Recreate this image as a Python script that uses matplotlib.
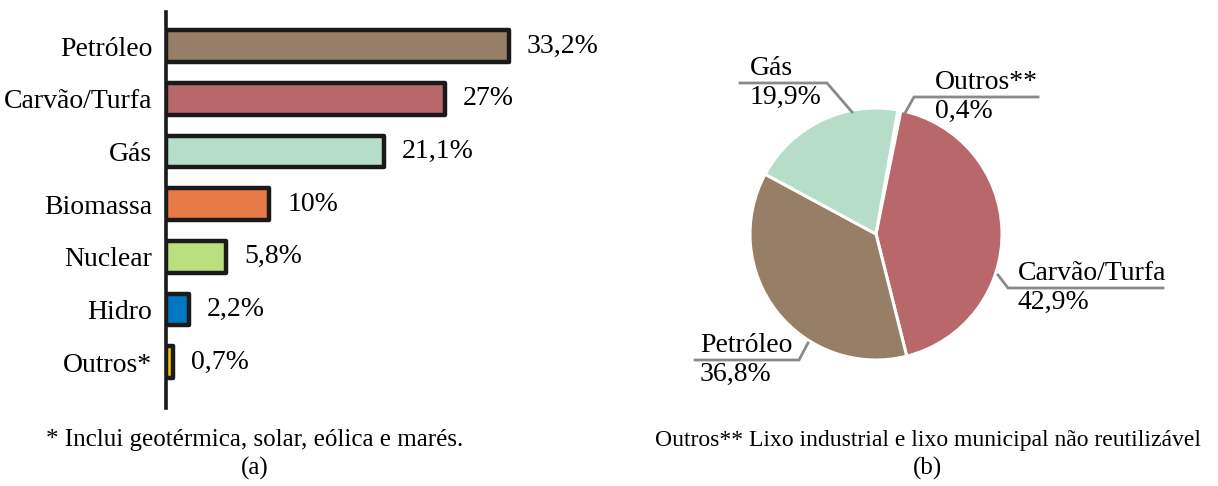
import matplotlib
matplotlib.use("Agg")
import matplotlib.pyplot as plt

plt.rcParams['font.family'] = ['Liberation Serif', 'DejaVu Serif']

# ---- data ----
bar_categories = ["Petróleo", "Carvão/Turfa", "Gás", "Biomassa", "Nuclear", "Hidro", "Outros*"]
bar_values = [33.2, 27.0, 21.1, 10.0, 5.8, 2.2, 0.7]
bar_labels = ["33,2%", "27%", "21,1%", "10%", "5,8%", "2,2%", "0,7%"]
bar_colors = ["#967F66", "#B8676A", "#B5DDC8", "#E87A48", "#BBDE7E", "#0477C2", "#F7C200"]

pie_categories = ["Outros**", "Carvão/Turfa", "Petróleo", "Gás"]
pie_values = [0.4, 42.9, 36.8, 19.9]
pie_labels = ["0,4%", "42,9%", "36,8%", "19,9%"]
pie_colors = ["#E0201B", "#B8676A", "#967F66", "#B5DDC8"]

note_a = "* Inclui geotérmica, solar, eólica e marés."
note_b = "Outros** Lixo industrial e lixo municipal não reutilizável"

W, H = 1218, 486
fig = plt.figure(figsize=(W / 100, H / 100), dpi=100)

# ---- bar chart (a) ----
ax = fig.add_axes([166 / W, 1 - 408 / H, 408 / W, 396 / H])
ypos = list(range(len(bar_categories)))
bars = ax.barh(ypos, bar_values, height=0.6, color=bar_colors,
               edgecolor="#1a1a1a", linewidth=3.2, zorder=2)
for b in bars:
    b.set_joinstyle("round")
ax.set_ylim(6.87, -0.65)
ax.set_xlim(0, 39.5)
ax.set_yticks(ypos)
ax.set_yticklabels(bar_categories, fontsize=20)
ax.tick_params(axis="y", length=0, pad=10)
ax.set_xticks([])
for s in ["top", "right", "bottom"]:
    ax.spines[s].set_visible(False)
ax.spines["left"].set_linewidth(2.6)
ax.spines["left"].set_color("#1a1a1a")
ax.spines["left"].set_zorder(3)
for y, v, lab in zip(ypos, bar_values, bar_labels):
    ax.annotate(lab, (v, y), xytext=(13, 0), textcoords="offset points",
                va="center", ha="left", fontsize=20)

# ---- pie chart (b) ----
ov = fig.add_axes([0, 0, 1, 1])
ov.patch.set_alpha(0)
ov.pie(pie_values, colors=pie_colors, startangle=80, counterclock=False,
       center=(876, H - 234), radius=126,
       wedgeprops=dict(edgecolor="white", linewidth=2.2), frame=False)
ov.set_xlim(0, W)
ov.set_ylim(0, H)
ov.set_aspect("auto")
ov.axis("off")

# label layout: (anchor on pie, elbow, line end, text x)
leaders = {
    "Outros**": ((905, 113), (914, 97), (1038, 97), 935),
    "Carvão/Turfa": ((998, 275), (1008, 288), (1163, 288), 1018),
    "Petróleo": ((808, 343), (799, 360), (695, 360), 700),
    "Gás": ((852, 112), (827, 83), (740, 83), 750),
}
for name, pct in zip(pie_categories, pie_labels):
    a, e, l, tx = leaders[name]
    ov.plot([a[0], e[0], l[0]], [H - a[1], H - e[1], H - l[1]],
            color="#8a8a8a", lw=2.0, solid_joinstyle="miter")
    ov.text(tx, H - e[1] + 2, name, ha="left", va="bottom", fontsize=20)
    ov.text(tx, H - e[1] - 2, pct, ha="left", va="top", fontsize=20)

# ---- notes ----
ov.text(255, H - 440, note_a, ha="center", va="center", fontsize=18)
ov.text(255, H - 468, "(a)", ha="center", va="center", fontsize=18)
ov.text(928, H - 440, note_b, ha="center", va="center", fontsize=17)
ov.text(928, H - 468, "(b)", ha="center", va="center", fontsize=18)

fig.savefig("out.png", dpi=100)
